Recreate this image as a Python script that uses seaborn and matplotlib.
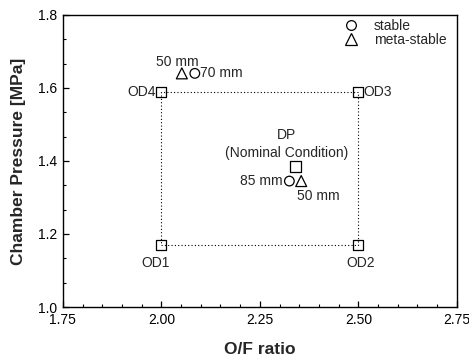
import matplotlib
matplotlib.use("Agg")
import matplotlib.pyplot as plt
from matplotlib.lines import Line2D
from matplotlib.ticker import MultipleLocator, FixedLocator
import numpy as np
import pandas as pd
import seaborn as sns

# Off-design operating points (O/F ratio, chamber pressure in MPa)
od_names = ["OD1", "OD2", "OD3", "OD4"]
od_of = [2.00, 2.50, 2.50, 2.00]
od_pc = [1.17, 1.17, 1.59, 1.59]

# Design point (nominal condition)
dp_of = [2.34]
dp_pc = [1.385]

# Stable / meta-stable test results with their resonator lengths
stable_of = [2.085, 2.325]
stable_pc = [1.64, 1.345]
stable_lbl = ["70 mm", "85 mm"]

meta_of = [2.052, 2.355]
meta_pc = [1.64, 1.345]
meta_lbl = ["50 mm", "50 mm"]

x_ticks = [1.75, 2.00, 2.25, 2.50, 2.75]
y_ticks = [1.0, 1.2, 1.4, 1.6, 1.8]

sns.set_style("ticks")
plt.rcParams["font.family"] = ["Liberation Sans", "DejaVu Sans"]
plt.rcParams["font.size"] = 10

fig = plt.figure(figsize=(4.69, 3.56), dpi=100)
ax = fig.add_axes([0.134, 0.1376, 0.840, 0.8204])

od_df = pd.DataFrame({"of": od_of, "pc": od_pc, "name": od_names})
loop_df = pd.concat([od_df, od_df.iloc[[0]]], ignore_index=True)

# dotted envelope connecting the off-design points
sns.lineplot(data=loop_df, x="of", y="pc", sort=False, estimator=None,
             color="black", lw=0.8, linestyle=(0, (1, 2)), ax=ax)

mk = dict(facecolor="none", edgecolor="black", linewidth=0.9)
sns.scatterplot(x=od_of, y=od_pc, marker="s", s=52, ax=ax, **mk)
sns.scatterplot(x=dp_of, y=dp_pc, marker="s", s=58, ax=ax, **mk)
sns.scatterplot(x=stable_of, y=stable_pc, marker="o", s=48, ax=ax, **mk)
sns.scatterplot(x=meta_of, y=meta_pc, marker="^", s=62, ax=ax, **mk)

fs = 10
# off-design labels
ax.annotate("OD1", (od_of[0], od_pc[0]), xytext=(-4, -13), textcoords="offset points",
            ha="center", va="center", fontsize=fs)
ax.annotate("OD2", (od_of[1], od_pc[1]), xytext=(2, -13), textcoords="offset points",
            ha="center", va="center", fontsize=fs)
ax.annotate("OD3", (od_of[2], od_pc[2]), xytext=(4, 0), textcoords="offset points",
            ha="left", va="center", fontsize=fs)
ax.annotate("OD4", (od_of[3], od_pc[3]), xytext=(-4, 0), textcoords="offset points",
            ha="right", va="center", fontsize=fs)

# resonator length labels
ax.annotate(meta_lbl[0], (meta_of[0], meta_pc[0]), xytext=(-3, 8), textcoords="offset points",
            ha="center", va="center", fontsize=fs)
ax.annotate(stable_lbl[0], (stable_of[0], stable_pc[0]), xytext=(4, 0), textcoords="offset points",
            ha="left", va="center", fontsize=fs)
ax.annotate(stable_lbl[1], (stable_of[1], stable_pc[1]), xytext=(-5, 0), textcoords="offset points",
            ha="right", va="center", fontsize=fs)
ax.annotate(meta_lbl[1], (meta_of[1], meta_pc[1]), xytext=(-3, -11), textcoords="offset points",
            ha="left", va="center", fontsize=fs)

# design point caption
ax.annotate("DP", (dp_of[0], dp_pc[0]), xytext=(-6, 23), textcoords="offset points",
            ha="center", va="center", fontsize=fs)
ax.annotate("(Nominal Condition)", (dp_of[0], dp_pc[0]), xytext=(-6, 10), textcoords="offset points",
            ha="center", va="center", fontsize=fs)

ax.set_xlim(1.75, 2.75)
ax.set_ylim(1.0, 1.8)
ax.xaxis.set_major_locator(FixedLocator(x_ticks))
ax.set_xticklabels([f"{v:.2f}" for v in x_ticks])
ax.xaxis.set_minor_locator(MultipleLocator(0.05))
ax.yaxis.set_major_locator(FixedLocator(y_ticks))
ax.set_yticklabels([f"{v:.1f}" for v in y_ticks])
ax.yaxis.set_minor_locator(MultipleLocator(0.2 / 3))

ax.tick_params(which="both", direction="in", top=False, right=False,
               labelsize=10, color="black", labelcolor="black", pad=4)
ax.tick_params(which="major", length=4, width=0.9)
ax.tick_params(which="minor", length=2.5, width=0.8)
for sp in ax.spines.values():
    sp.set_visible(True)
    sp.set_linewidth(1.0)
    sp.set_color("black")

ax.set_xlabel("O/F ratio", fontsize=12.5, fontweight="bold", labelpad=11)
ax.set_ylabel("Chamber Pressure [MPa]", fontsize=12.5, fontweight="bold", labelpad=9)

handles = [
    Line2D([], [], marker="o", linestyle="none", markerfacecolor="none",
           markeredgecolor="black", markersize=7, markeredgewidth=0.9, label="stable"),
    Line2D([], [], marker="^", linestyle="none", markerfacecolor="none",
           markeredgecolor="black", markersize=8, markeredgewidth=0.9, label="meta-stable"),
]
ax.legend(handles=handles, loc="upper right", bbox_to_anchor=(0.985, 1.0), frameon=False,
          fontsize=10, handlelength=1.0, handletextpad=1.15, labelspacing=0.0,
          borderaxespad=0.1, borderpad=0.2)

fig.savefig("out.png", dpi=100)
